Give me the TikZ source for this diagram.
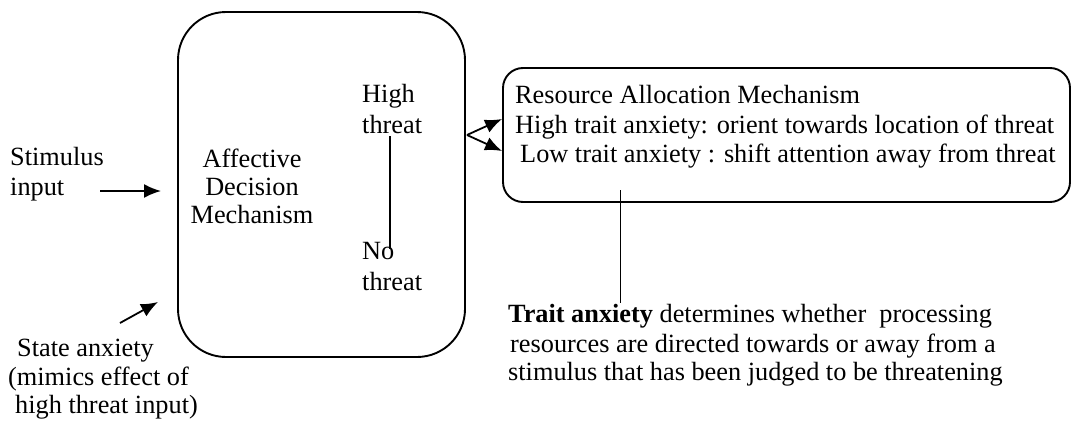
\documentclass[tikz,border=0pt]{standalone}
\usepackage{fontspec}
\setmainfont{Liberation Serif}
\usetikzlibrary{arrows.meta}
\begin{document}
\begin{tikzpicture}[x=1pt,y=-1pt,
  txt/.style={inner sep=0pt, anchor=base west, font=\fontsize{26.3}{29}\selectfont},
  ctxt/.style={inner sep=0pt, anchor=base, font=\fontsize{26.3}{29}\selectfont},
  roundbox/.style={draw, line width=1.9pt, inner sep=0pt},
  arr/.style={line width=1.8pt, -{Latex[length=17pt,width=14pt]}},
  plainline/.style={line width=1.7pt}]
\useasboundingbox (0,0) rectangle (1072,423);
% boxes
\node[roundbox, rounded corners=48pt, minimum width=287pt, minimum height=345pt] (adm) at (321.5,184.5) {};
\node[roundbox, rounded corners=20pt, minimum width=567pt, minimum height=134pt] (ram) at (786.5,135) {};
% left labels
\node[txt] (stim1) at (10,165) {Stimulus};
\node[txt] (stim2) at (10,195) {input};
\node[txt] (st1) at (17,356) {State anxiety};
\node[txt] (st2) at (8,385) {(mimics effect of};
\node[txt] (st3) at (15,413) {high threat input)};
% ADM text
\node[ctxt] (a1) at (252,167) {Affective};
\node[ctxt] (a2) at (252,195) {Decision};
\node[ctxt] (a3) at (252,223) {Mechanism};
\node[txt] (h1) at (362,102) {High};
\node[txt] (h2) at (362,133) {threat};
\node[txt] (n1) at (362,259) {No};
\node[txt] (n2) at (362,290) {threat};
% RAM text
\node[txt] (r1) at (515,103) {Resource Allocation Mechanism};
\node[txt] (r2) at (515,133) {High trait anxiety: orient towards location of threat};
\node[txt] (r3) at (520,162) {Low trait anxiety : shift attention away from threat};
% bottom text
\node[txt] (b1) at (508,322) {\textbf{Trait anxiety} determines whether\ \ processing};
\node[txt] (b2) at (510,352) {resources are directed towards or away from a};
\node[txt] (b3) at (508,380) {stimulus that has been judged to be threatening};
% connectors
\coordinate (s1) at (100,191);
\coordinate (s2) at (161,191);
\draw[arr] (s1) -- (s2);
\coordinate (sa1) at (120,323);
\coordinate (sa2) at (158,302);
\draw[arr] (sa1) -- (sa2);
\coordinate (apex) at (467,135);
\draw[arr] (apex) -- ([yshift=16pt]ram.west);
\draw[arr] (apex) -- ([yshift=-16pt]ram.west);
\coordinate (v1) at (390,136);
\coordinate (v2) at (390,249);
\draw[plainline] (v1) -- (v2);
\coordinate (t1) at (620,190);
\coordinate (t2) at (620,303);
\draw[line width=1pt] (t1) -- (t2);
\end{tikzpicture}
\end{document}
